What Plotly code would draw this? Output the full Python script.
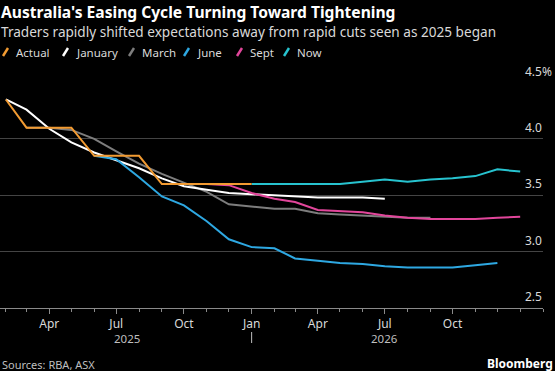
import plotly.graph_objects as go

# ---------------- data ----------------
def months(y, m, n):
    out = []
    for _ in range(n):
        out.append(f"{y:04d}-{m:02d}-01")
        m += 1
        if m > 12:
            m = 1
            y += 1
    return out

series_names = ["Actual", "January", "March", "June", "Sept", "Now"]

actual_dates = months(2025, 2, 12)
actual = [4.35, 4.10, 4.10, 4.10, 3.85, 3.85, 3.85, 3.60, 3.60, 3.60, 3.60, 3.60]

january_dates = months(2025, 2, 18)
january = [4.35, 4.26, 4.09, 3.97, 3.88, 3.81, 3.74, 3.65, 3.58, 3.55, 3.52, 3.51,
           3.50, 3.49, 3.48, 3.48, 3.48, 3.47]

march_dates = months(2025, 3, 19)
march = [4.10, 4.10, 4.08, 4.00, 3.89, 3.78, 3.69, 3.61, 3.53, 3.42, 3.40, 3.38,
         3.38, 3.34, 3.33, 3.32, 3.31, 3.30, 3.30]

june_dates = months(2025, 6, 19)
june = [3.85, 3.82, 3.66, 3.49, 3.41, 3.27, 3.11, 3.04, 3.03, 2.94, 2.92, 2.90,
        2.89, 2.87, 2.86, 2.86, 2.86, 2.88, 2.90]

sept_dates = months(2025, 9, 17)
sept = [3.60, 3.60, 3.60, 3.59, 3.52, 3.47, 3.44, 3.37, 3.36, 3.35, 3.32, 3.30,
        3.29, 3.29, 3.29, 3.30, 3.31]

now_dates = months(2026, 1, 13)
now = [3.60, 3.60, 3.60, 3.60, 3.60, 3.62, 3.64, 3.62, 3.64, 3.65, 3.67, 3.73, 3.71]

x_tickvals = ["2025-04-01", "2025-07-01", "2025-10-01", "2026-01-01",
              "2026-04-01", "2026-07-01", "2026-10-01"]
x_ticktext = ["Apr", "Jul", "Oct", "Jan", "Apr", "Jul", "Oct"]
year_labels = ["2025", "2026"]
year_label_pos = ["2025-07-16", "2026-07-01"]
year_sep_pos = "2026-01-01"
y_ticks = [2.5, 3.0, 3.5, 4.0, 4.5]
y_ticktext = ["2.5", "3.0", "3.5", "4.0", "4.5%"]

# ---------------- styling ----------------
colors = {
    "Actual": "#f29b32",
    "January": "#ffffff",
    "March": "#7d7d7d",
    "June": "#2ea8e2",
    "Sept": "#e2469b",
    "Now": "#27c3cf",
}
FONT = "Noto Sans"
W, H = 555, 371
ML, MR, MT, MB = 0, 12, 82, 63
PW, PH = W - ML - MR, H - MT - MB

def px(xpix):
    return (xpix - ML) / PW

def py(ypix):
    return (H - MB - ypix) / PH

fig = go.Figure()
order = [("March", march_dates, march), ("January", january_dates, january),
         ("June", june_dates, june), ("Sept", sept_dates, sept),
         ("Now", now_dates, now), ("Actual", actual_dates, actual)]
for name, d, v in order:
    fig.add_trace(go.Scatter(x=d, y=v, mode="lines", name=name,
                             line=dict(color=colors[name], width=2),
                             showlegend=False, hoverinfo="skip"))

annotations = []
shapes = []

# title and subtitle
annotations.append(dict(text="<b>Australia's Easing Cycle Turning Toward Tightening</b>",
                        x=px(0), y=py(0), xref="paper", yref="paper",
                        xanchor="left", yanchor="top", showarrow=False, borderpad=0,
                        font=dict(family=FONT, size=15.6, color="#ffffff")))
annotations.append(dict(text="Traders rapidly shifted expectations away from rapid cuts seen as 2025 began",
                        x=px(0), y=py(21), xref="paper", yref="paper",
                        xanchor="left", yanchor="top", showarrow=False, borderpad=0,
                        font=dict(family=FONT, size=13.6, color="#d9d9d9")))

# custom legend with slash markers
legend_x = [2, 62, 128, 183, 236, 283]
for name, lx in zip(series_names, legend_x):
    shapes.append(dict(type="line", xref="paper", yref="paper",
                       x0=px(lx + 1), y0=py(56), x1=px(lx + 6), y1=py(48),
                       line=dict(color=colors[name], width=2.5)))
    annotations.append(dict(text=name, x=px(lx + 12), y=py(52), xref="paper", yref="paper",
                            xanchor="left", yanchor="middle", showarrow=False,
                            font=dict(family=FONT, size=11.5, color="#d9d9d9")))

# y tick labels (above gridlines at right edge)
for val, txt in zip(y_ticks, y_ticktext):
    xr = 554 if txt.endswith("%") else 544
    annotations.append(dict(text=txt, x=px(xr), y=val, xref="paper", yref="y",
                            xanchor="right", yanchor="bottom", yshift=1, showarrow=False,
                            font=dict(family=FONT, size=12, color="#d9d9d9")))

# year labels
for lab, pos in zip(year_labels, year_label_pos):
    annotations.append(dict(text=lab, x=pos, y=py(338), xref="x", yref="paper",
                            xanchor="center", yanchor="middle", showarrow=False,
                            font=dict(family=FONT, size=11.5, color="#bfbfbf")))
shapes.append(dict(type="line", xref="x", yref="paper", x0=year_sep_pos, x1=year_sep_pos,
                   y0=py(332), y1=py(343), line=dict(color="#bfbfbf", width=1)))

# footer
annotations.append(dict(text="Sources: RBA, ASX", x=px(0), y=py(364), xref="paper", yref="paper",
                        xanchor="left", yanchor="middle", showarrow=False,
                        font=dict(family=FONT, size=11, color="#bfbfbf")))
annotations.append(dict(text="<b>Bloomberg</b>", x=px(555), y=py(363), xref="paper", yref="paper",
                        xanchor="right", yanchor="middle", showarrow=False,
                        font=dict(family=FONT, size=12, color="#ffffff")))

fig.update_layout(
    width=W, height=H,
    margin=dict(l=ML, r=MR, t=MT, b=MB, pad=0),
    paper_bgcolor="#000000", plot_bgcolor="#000000",
    showlegend=False,
    annotations=annotations, shapes=shapes,
    xaxis=dict(range=["2025-01-24", "2027-02-01"], type="date",
               tickmode="array", tickvals=x_tickvals, ticktext=x_ticktext,
               ticks="outside", ticklen=5, tickcolor="#8a8a8a", tickwidth=1,
               showline=True, linecolor="#8a8a8a", linewidth=1,
               showgrid=False, zeroline=False,
               tickfont=dict(family=FONT, size=12, color="#d9d9d9"),
               minor=dict(dtick="M1", tick0="2025-01-01", ticks="outside",
                          ticklen=3, tickcolor="#8a8a8a", showgrid=False)),
    yaxis=dict(range=[2.5, 4.505], tickmode="array", tickvals=y_ticks,
               showticklabels=False, showgrid=True, gridcolor="#444444", gridwidth=1,
               zeroline=False, showline=False, ticks=""),
)

fig.write_html("out.html", config={"displayModeBar": False},
               post_script="document.body.style.margin='0';document.body.style.background='#000';")
